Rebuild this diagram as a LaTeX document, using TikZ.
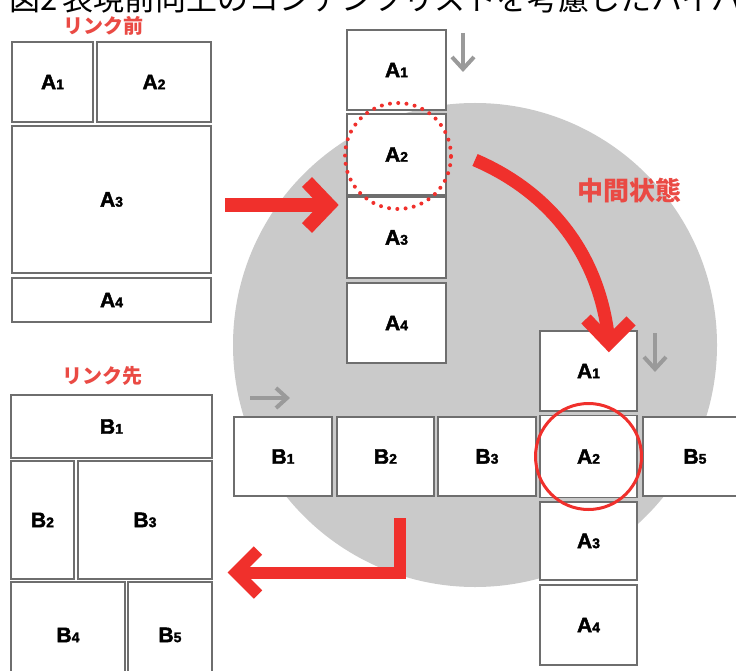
\documentclass[tikz,border=0pt]{standalone}
\usepackage{fontspec}
\setmainfont{Liberation Sans}
\newfontfamily\jp{Noto Sans CJK JP}
\newfontfamily\heavy{Liberation Sans}[BoldFeatures={FakeBold=2}]
\usetikzlibrary{calc}

\definecolor{boxline}{HTML}{6E6E6E}
\definecolor{disc}{HTML}{CACACA}
\definecolor{arrowred}{HTML}{F0302C}
\definecolor{labelred}{HTML}{EA4A44}
\definecolor{hintgray}{HTML}{9A9A9A}

% block label: capital letter followed by a smaller index digit
\newcommand\blk[2]{{\heavy\bfseries\fontsize{21}{21}\selectfont #1}{\heavy\bfseries\fontsize{14}{14}\selectfont #2}}

\tikzset{
  panel/.style={rectangle, draw=boxline, line width=1.4pt, fill=white, inner sep=0pt, anchor=center},
  bigarrow/.style={draw=arrowred, line width=13pt, line join=miter, line cap=butt},
  hint/.style={draw=hintgray, line width=4pt, line join=miter, line cap=butt},
  redtext/.style={text=labelred, inner sep=0pt, font=\jp\bfseries\fontsize{20}{20}\selectfont},
}

\begin{document}
\begin{tikzpicture}[x=1pt, y=-1pt]
\useasboundingbox (0,0) rectangle (736,671);
\clip (0,0) rectangle (736,671);
\fill[white] (0,0) rectangle (736,671);

% caption line
\node[anchor=base east, inner sep=0pt, font=\jp\fontsize{31}{31}\selectfont] (fignum) at (58,11) {図2};
\node[anchor=base west, inner sep=0pt, font=\jp\fontsize{31}{31}\selectfont] (caption) at (62,11) {表現前向上のコンテンツリストを考慮したハイパーリンク};

% grey disc behind the intermediate state
\coordinate (discc) at (475,345);
\fill[disc] (discc) circle[radius=242pt];

% page before the link
\node[redtext] (before) at (103,26) {リンク前};
\node[panel, minimum width=81pt,  minimum height=80pt]  (pA1) at (52.5,82)   {\blk{A}{1}};
\node[panel, minimum width=114pt, minimum height=80pt]  (pA2) at (154,82)    {\blk{A}{2}};
\node[panel, minimum width=199pt, minimum height=147pt] (pA3) at (111.5,199.5) {\blk{A}{3}};
\node[panel, minimum width=199pt, minimum height=44pt]  (pA4) at (111.5,300) {\blk{A}{4}};

% page after the link
\node[redtext] (after) at (102,376) {リンク先};
\node[panel, minimum width=201pt, minimum height=63pt]  (pB1) at (111.5,426.5) {\blk{B}{1}};
\node[panel, minimum width=63pt,  minimum height=118pt] (pB2) at (42.5,520)  {\blk{B}{2}};
\node[panel, minimum width=134pt, minimum height=118pt] (pB3) at (145,520)   {\blk{B}{3}};
\node[panel, minimum width=114pt, minimum height=106pt] (pB4) at (68,635)    {\blk{B}{4}};
\node[panel, minimum width=84pt,  minimum height=106pt] (pB5) at (170,635)   {\blk{B}{5}};

% linearised source page
\node[panel, minimum width=99pt, minimum height=80pt] (mA1) at (396.5,70)    {\blk{A}{1}};
\node[panel, minimum width=99pt, minimum height=81pt] (mA2) at (396.5,154.5) {\blk{A}{2}};
\node[panel, minimum width=99pt, minimum height=81pt] (mA3) at (396.5,237.5) {\blk{A}{3}};
\node[panel, minimum width=99pt, minimum height=80pt] (mA4) at (396.5,323)   {\blk{A}{4}};

% intermediate state: crossing of the two sequences
\node[panel, minimum width=98pt,  minimum height=79pt] (rB1) at (283,456.5)   {\blk{B}{1}};
\node[panel, minimum width=97pt,  minimum height=79pt] (rB2) at (385.5,456.5) {\blk{B}{2}};
\node[panel, minimum width=98pt,  minimum height=79pt] (rB3) at (487,456.5)   {\blk{B}{3}};
\node[panel, minimum width=104pt, minimum height=79pt] (rB5) at (695,456.5)   {\blk{B}{5}};
\node[panel, minimum width=97pt,  minimum height=80pt] (cA1) at (588.5,371)   {\blk{A}{1}};
\node[panel, minimum width=97pt,  minimum height=82pt] (cA2) at (588.5,456.5) {\blk{A}{2}};
\node[panel, minimum width=97pt,  minimum height=78pt] (cA3) at (588.5,541)   {\blk{A}{3}};
\node[panel, minimum width=97pt,  minimum height=80pt] (cA4) at (588.5,625)   {\blk{A}{4}};

% link anchors
\coordinate (dotc) at (398,156);
\draw[arrowred, line width=4pt, line cap=round, dash pattern=on 0pt off 8.3pt] (dotc) circle[radius=53pt];
\draw[arrowred, line width=3pt] (cA2.center) circle[radius=53pt];

\node[redtext, font=\jp\bfseries\fontsize{26}{26}\selectfont] (mid) at (629,191) {中間状態};

% reading-direction hints
\coordinate (h1s) at (463,33);  \coordinate (h1t) at (463,69);
\draw[hint] (h1s) -- (h1t);
\draw[hint] ($(h1t)+(-11,-12)$) -- (h1t) -- ($(h1t)+(11,-12)$);
\coordinate (h2s) at (655,333); \coordinate (h2t) at (655,369);
\draw[hint] (h2s) -- (h2t);
\draw[hint] ($(h2t)+(-11,-12)$) -- (h2t) -- ($(h2t)+(11,-12)$);
\coordinate (h3s) at (250,398); \coordinate (h3t) at (287,398);
\draw[hint] (h3s) -- (h3t);
\draw[hint] ($(h3t)+(-11,-10)$) -- (h3t) -- ($(h3t)+(-11,10)$);

% transitions
\coordinate (a1s) at (225,205); \coordinate (a1t) at (329,205);
\draw[bigarrow, line width=14pt] (a1s) -- (a1t);
\draw[bigarrow, line width=14pt] ($(a1t)+(-22,-23)$) -- (a1t) -- ($(a1t)+(-22,23)$);

\coordinate (a2s) at (475,160); \coordinate (a2t) at (609,343);
\draw[bigarrow] (a2s) .. controls (545,190) and (600,250) .. (a2t);
\draw[bigarrow] (586,319) -- (a2t) -- (631,321);

\coordinate (a3s) at (400,518); \coordinate (a3c) at (400,572.5); \coordinate (a3t) at (236,572.5);
\draw[bigarrow, line width=12pt] (a3s) -- (a3c) -- (a3t);
\draw[bigarrow, line width=12pt] ($(a3t)+(22,-22)$) -- (a3t) -- ($(a3t)+(22,22)$);
\end{tikzpicture}
\end{document}
